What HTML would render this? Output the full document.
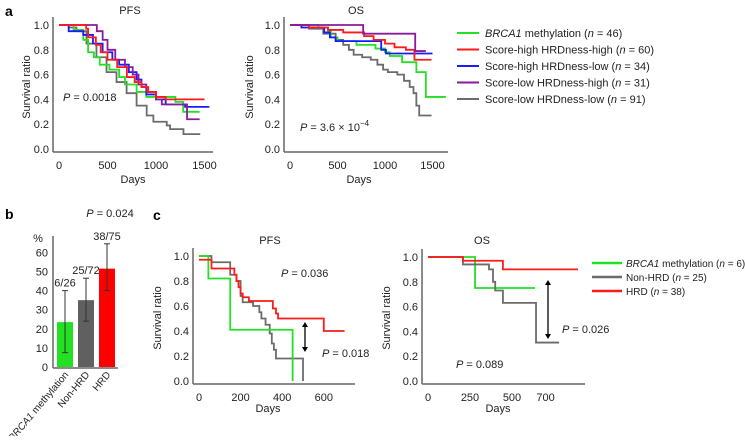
<!DOCTYPE html>
<html><head><meta charset="utf-8"><style>
body{margin:0;background:#fff;}
svg{font-family:"Liberation Sans",Arial,sans-serif;}
</style></head><body>
<svg id="fig" width="745" height="436" viewBox="0 0 745 436" xmlns="http://www.w3.org/2000/svg"></svg>
<script>
// ---- Panel a PFS data ----
const aPfsGreenT=[0,150,250,300,360,420,520,620,680,800,900,1000,1200,1280,1450];
const aPfsGreenS=[1,0.96,0.88,0.78,0.74,0.68,0.64,0.58,0.52,0.46,0.42,0.42,0.38,0.3,0.3];
const aPfsRedT=[0,280,300,380,430,500,600,700,780,850,920,1000,1100,1150,1500];
const aPfsRedS=[1,0.97,0.9,0.84,0.78,0.72,0.66,0.58,0.54,0.5,0.46,0.42,0.4,0.4,0.4];
const aPfsBlueT=[0,100,250,350,450,550,620,720,800,850,900,1000,1100,1300,1550];
const aPfsBlueS=[1,0.95,0.92,0.85,0.78,0.72,0.68,0.62,0.56,0.5,0.44,0.4,0.36,0.34,0.34];
const aPfsPurpleT=[0,390,450,500,580,680,760,820,900,1000,1060,1320,1450];
const aPfsPurpleS=[1,0.95,0.88,0.8,0.72,0.66,0.6,0.52,0.46,0.4,0.36,0.24,0.24];
const aPfsGrayT=[0,100,180,283,386,490,593,697,800,904,973,1111,1145,1283,1456];
const aPfsGrayS=[1,0.98,0.95,0.85,0.74,0.62,0.54,0.45,0.35,0.27,0.22,0.19,0.16,0.12,0.12];
// ---- Panel a OS data ----
const aOsGreenT=[0,300,400,430,500,700,900,1000,1050,1180,1330,1430,1640];
const aOsGreenS=[1,0.98,0.95,0.9,0.87,0.84,0.81,0.78,0.75,0.7,0.62,0.42,0.42];
const aOsRedT=[0,200,400,560,780,880,1000,1100,1220,1310,1490];
const aOsRedS=[1,0.98,0.96,0.94,0.91,0.88,0.85,0.82,0.8,0.72,0.72];
const aOsBlueT=[0,120,360,420,480,960,1010,1500];
const aOsBlueS=[1,0.98,0.94,0.9,0.87,0.8,0.77,0.77];
const aOsPurpleT=[0,770,1318,1430];
const aOsPurpleS=[1,0.93,0.79,0.79];
const aOsGrayT=[0,200,350,480,560,620,670,760,850,920,980,1030,1130,1200,1260,1300,1330,1360,1490];
const aOsGrayS=[1,0.97,0.93,0.88,0.84,0.8,0.76,0.74,0.72,0.68,0.64,0.62,0.6,0.55,0.5,0.45,0.35,0.27,0.27];
// ---- Panel b data ----
const bCats=["BRCA1 methylation","Non-HRD","HRD"];
const bVals=[23.5,35,51.5];
const bLow=[7.5,24,40];
const bHigh=[40,46.5,64.5];
const bLabels=["6/26","25/72","38/75"];
const bTicks=[0,10,20,30,40,50,60];
// ---- Panel c PFS data ----
const cPfsGreenT=[0,45,150,450,450];
const cPfsGreenS=[1,0.82,0.41,0,0];
const cPfsGrayT=[0,60,150,180,200,210,260,290,300,320,340,350,360,370,500,500];
const cPfsGrayS=[1,0.95,0.85,0.8,0.68,0.63,0.6,0.55,0.5,0.45,0.38,0.3,0.25,0.18,0,0];
const cPfsRedT=[0,60,170,180,190,200,210,240,355,370,380,600,700];
const cPfsRedS=[0.97,0.9,0.85,0.8,0.75,0.7,0.67,0.64,0.58,0.54,0.5,0.4,0.4];
// ---- Panel c OS data ----
const cOsGreenT=[0,280,637];
const cOsGreenS=[1,0.75,0.75];
const cOsGrayT=[0,208,363,387,400,446,643,780];
const cOsGrayS=[1,0.94,0.9,0.8,0.73,0.63,0.31,0.31];
const cOsRedT=[0,208,446,893];
const cOsRedS=[1,0.97,0.9,0.9];

const svg=document.getElementById('fig');
const NS="http://www.w3.org/2000/svg";
function el(tag,attrs,parent){const e=document.createElementNS(NS,tag);for(const k in attrs)e.setAttribute(k,attrs[k]);(parent||svg).appendChild(e);return e;}
function txt(x,y,s,opts,parent){const t=el('text',Object.assign({x:x,y:y,'font-size':11,fill:'#222'},opts||{}),parent);t.innerHTML=s;return t;}

function axes(name,x0,y0,y1,xEnd,xScale,xTicks){
  const g=el('g',{});
  
  
  el('line',{x1:x0-6,y1:y0+3,x2:xEnd,y2:y0+3,stroke:'#666','stroke-width':1.5},g);
  el('line',{x1:x0-6,y1:y1-8,x2:x0-6,y2:y0+3,stroke:'#666','stroke-width':1.5},g);
  for(let i=0;i<=5;i++){const v=i*0.2;const y=y0-(y0-y1)*v;
    txt(x0-10,y+4,v.toFixed(1),{'text-anchor':'end'},g);}
  xTicks.forEach(t=>txt(x0+t*xScale,y0+20,t,{'text-anchor':'middle'},g));
  return g;
}
function km(name,T,S,x0,y0,y1,xs,color){
  let d='';
  for(let i=0;i<T.length;i++){const x=x0+T[i]*xs,y=y0-(y0-y1)*S[i];
    if(i===0)d+='M'+x+','+y;else{d+=' H'+x+' V'+y;}}
  const p=el('path',{d:d,fill:'none',stroke:color,'stroke-width':1.8});
  
  
}
const GREEN='#22e022',RED='#ff1a1a',BLUE='#1a1aff',PURPLE='#8b1a9b',GRAY='#6b6b6b';

// Panel a PFS
txt(5,16,'a',{'font-size':14,'font-weight':'bold',fill:'#000'});
txt(130,14,'PFS',{'text-anchor':'middle'});
axes('pfs-a-axes',59,149,25,213,0.097,[0,500,1000,1500]);
txt(30,87,'Survival ratio',{'text-anchor':'middle',transform:'rotate(-90 30 87)'});
txt(133,183,'Days',{'text-anchor':'middle'});
km('pfs-a-gray',aPfsGrayT,aPfsGrayS,59,149,25,0.097,GRAY);
km('pfs-a-green',aPfsGreenT,aPfsGreenS,59,149,25,0.097,GREEN);
km('pfs-a-blue',aPfsBlueT,aPfsBlueS,59,149,25,0.097,BLUE);
km('pfs-a-purple',aPfsPurpleT,aPfsPurpleS,59,149,25,0.097,PURPLE);
km('pfs-a-red',aPfsRedT,aPfsRedS,59,149,25,0.097,RED);
txt(63,101,'<tspan font-style="italic">P</tspan> = 0.0018');

// Panel a OS
const OX=290,OS_S=0.095;
txt(356,14,'OS',{'text-anchor':'middle'});
axes('os-a-axes',OX,149,25,448,OS_S,[0,500,1000,1500]);
txt(253,87,'Survival ratio',{'text-anchor':'middle',transform:'rotate(-90 253 87)'});
txt(359,183,'Days',{'text-anchor':'middle'});
km('os-a-gray',aOsGrayT,aOsGrayS,OX,149,25,OS_S,GRAY);
km('os-a-green',aOsGreenT,aOsGreenS,OX,149,25,OS_S,GREEN);
km('os-a-blue',aOsBlueT,aOsBlueS,OX,149,25,OS_S,BLUE);
km('os-a-red',aOsRedT,aOsRedS,OX,149,25,OS_S,RED);
km('os-a-purple',aOsPurpleT,aOsPurpleS,OX,149,25,OS_S,PURPLE);
txt(300,131,'<tspan font-style="italic">P</tspan> = 3.6 × 10<tspan dy="-5" font-size="8">−4</tspan>');

// Legend a
const legA=[[GREEN,'<tspan font-style="italic">BRCA1</tspan> methylation (<tspan font-style="italic">n</tspan> = 46)'],
 [RED,'Score-high HRDness-high (<tspan font-style="italic">n</tspan> = 60)'],
 [BLUE,'Score-high HRDness-low (<tspan font-style="italic">n</tspan> = 34)'],
 [PURPLE,'Score-low HRDness-high (<tspan font-style="italic">n</tspan> = 31)'],
 [GRAY,'Score-low HRDness-low (<tspan font-style="italic">n</tspan> = 91)']];
legA.forEach((l,i)=>{const y=33+i*16.5;
  const g=el('g',{});
  
  
  el('line',{x1:457,y1:y,x2:479,y2:y,stroke:l[0],'stroke-width':2},g);
  txt(485,y+4,l[1],{},g);});

// Panel b
txt(5,219,'b',{'font-size':14,'font-weight':'bold',fill:'#000'});
txt(110,217,'<tspan font-style="italic">P</tspan> = 0.024',{'text-anchor':'middle'});
const by0=367,bpx=1.91,bx=[57,78,99],bw=16,bcol=[GREEN,'#606060','#ff0000'];
el('line',{x1:53,y1:236,x2:53,y2:368,stroke:'#666','stroke-width':1.5});
el('line',{x1:53,y1:368,x2:118,y2:368,stroke:'#666','stroke-width':1.5});
txt(38,242,'%',{'text-anchor':'middle'});
bTicks.forEach(t=>txt(48,by0-t*bpx+4,t,{'text-anchor':'end'}));
bVals.forEach((v,i)=>{
  const r=el('rect',{x:bx[i],y:by0-v*bpx,width:bw,height:v*bpx,fill:bcol[i]});
  
  
  const cx=bx[i]+bw/2,yl=by0-bLow[i]*bpx,yh=by0-bHigh[i]*bpx;
  el('line',{x1:cx,y1:yl,x2:cx,y2:yh,stroke:'#333','stroke-width':1});
  el('line',{x1:cx-3,y1:yl,x2:cx+3,y2:yl,stroke:'#333','stroke-width':1});
  el('line',{x1:cx-3,y1:yh,x2:cx+3,y2:yh,stroke:'#333','stroke-width':1});
  txt(cx,yh-4,bLabels[i],{'text-anchor':'middle'});
  const lab=i===0?'<tspan font-style="italic">BRCA1</tspan> methylation':bCats[i];
  txt(cx+4,375,lab,{'text-anchor':'end','font-size':10,transform:'rotate(-50 '+(cx+4)+' 375)'});
});

// Panel c PFS
txt(153,220,'c',{'font-size':14,'font-weight':'bold',fill:'#000'});
txt(270,244,'PFS',{'text-anchor':'middle'});
axes('pfs-c-axes',199,381,256,355,0.208,[0,200,400,600]);
txt(161,318,'Survival ratio',{'text-anchor':'middle',transform:'rotate(-90 161 318)'});
txt(268,412,'Days',{'text-anchor':'middle'});
km('pfs-c-gray',cPfsGrayT,cPfsGrayS,199,381,256,0.208,GRAY);
km('pfs-c-green',cPfsGreenT,cPfsGreenS,199,381,256,0.208,GREEN);
km('pfs-c-red',cPfsRedT,cPfsRedS,199,381,256,0.208,RED);
txt(281,277,'<tspan font-style="italic">P</tspan> = 0.036');
txt(322,357,'<tspan font-style="italic">P</tspan> = 0.018');
function arrow(x,y1,y2){
  el('line',{x1:x,y1:y1+4,x2:x,y2:y2-4,stroke:'#000','stroke-width':1.3});
  el('polygon',{points:`${x-3},${y1+5} ${x+3},${y1+5} ${x},${y1}`,fill:'#000'});
  el('polygon',{points:`${x-3},${y2-5} ${x+3},${y2-5} ${x},${y2}`,fill:'#000'});
}
arrow(305,322,352);

// Panel c OS
txt(482,244,'OS',{'text-anchor':'middle'});
axes('os-c-axes',428,381,257,585,0.168,[0,250,500,700]);
txt(390,318,'Survival ratio',{'text-anchor':'middle',transform:'rotate(-90 390 318)'});
txt(498,412,'Days',{'text-anchor':'middle'});
km('os-c-green',cOsGreenT,cOsGreenS,428,381,257,0.168,GREEN);
km('os-c-gray',cOsGrayT,cOsGrayS,428,381,257,0.168,GRAY);
km('os-c-red',cOsRedT,cOsRedS,428,381,257,0.168,RED);
txt(562,333,'<tspan font-style="italic">P</tspan> = 0.026');
txt(456,368,'<tspan font-style="italic">P</tspan> = 0.089');
arrow(548,280,339);
const legC=[[GREEN,'<tspan font-style="italic">BRCA1</tspan> methylation (<tspan font-style="italic">n</tspan> = 6)'],
 [GRAY,'Non-HRD (<tspan font-style="italic">n</tspan> = 25)'],
 [RED,'HRD (<tspan font-style="italic">n</tspan> = 38)']];
legC.forEach((l,i)=>{const y=263+i*14;
  const g=el('g',{});
  
  
  el('line',{x1:592,y1:y,x2:622,y2:y,stroke:l[0],'stroke-width':2.5},g);
  txt(626,y+4,l[1],{'font-size':10},g);});
</script>
</body></html>
